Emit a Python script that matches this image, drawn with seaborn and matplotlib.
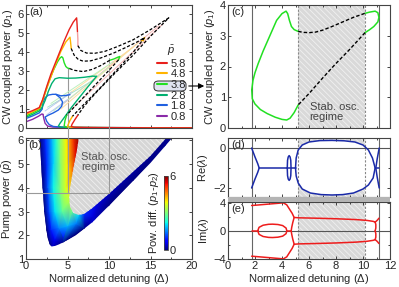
import numpy as np
import matplotlib
matplotlib.use("Agg")
import matplotlib.pyplot as plt
import matplotlib.tri as mtri
import seaborn as sns
from matplotlib.patches import Polygon, FancyBboxPatch, Rectangle

sns.set_style("ticks")
plt.rcParams['font.family'] = ['Liberation Sans', 'DejaVu Sans']
plt.rcParams['mathtext.fontset'] = 'custom'
plt.rcParams['mathtext.rm'] = 'Liberation Sans'
plt.rcParams['mathtext.it'] = 'Liberation Sans:italic'
plt.rcParams['font.size'] = 8
plt.rcParams['hatch.linewidth'] = 0.6
plt.rcParams['axes.edgecolor'] = '#444444'
plt.rcParams['axes.linewidth'] = 0.8

# ---------------- panel (a): CW coupled power vs detuning ----------------
pbar_labels = ['5.8', '4.8', '3.8', '2.8', '1.8', '0.8']
pbar_colors = ['#e8201c', '#ffb400', '#22e022', '#00b070', '#2060e0', '#8a2aa8']

# stable upper branches (solid, coloured)
up_58_x = [0, 0.8, 1.6, 2.0, 2.5, 3.0, 3.5, 4.0, 4.6, 5.2, 5.7, 6.1, 6.15, 6.2]
up_58_y = [0.78, 0.92, 1.08, 1.5, 2.2, 2.85, 3.4, 3.95, 4.6, 5.2, 5.6, 5.82, 5.5, 5.1]
up_48_x = [0, 0.8, 1.6, 2.0, 2.5, 3.0, 3.6, 4.2, 4.8, 5.3, 5.38, 5.45]
up_48_y = [0.71, 0.86, 1.03, 1.45, 2.1, 2.7, 3.4, 4.05, 4.55, 4.8, 4.5, 4.2]
up_38_x = [0, 0.8, 1.6, 1.95, 2.3, 2.8, 3.3, 3.8, 4.1, 4.3, 4.45, 4.6, 4.8, 5.0, 5.25]
up_38_y = [0.64, 0.8, 0.98, 1.35, 1.85, 2.5, 3.05, 3.5, 3.7, 3.77, 3.7, 3.45, 3.25, 3.17, 3.14]
up_28_x = [0, 0.8, 1.6, 1.95, 2.3, 2.7, 3.1, 3.5, 4.0, 5.0, 6.0, 7.0, 8.0, 8.5]
up_28_y = [0.57, 0.72, 0.9, 1.1, 1.45, 1.95, 2.35, 2.6, 2.66, 2.63, 2.64, 2.68, 2.74, 2.73]
up_18_x = [0, 0.8, 1.6, 1.95, 2.05, 2.3, 2.7, 3.2, 3.6, 4.2, 4.8, 5.3]
up_18_y = [0.5, 0.64, 0.8, 1.0, 1.35, 1.6, 1.74, 1.78, 1.78, 1.7, 1.72, 1.76]
up_08_x = [0, 0.8, 1.5, 1.9, 2.05]
up_08_y = [0.33, 0.46, 0.62, 0.74, 0.72]

# unstable branches (black dashed)
un_58_x = [6.25, 6.6, 7.3, 8.3, 9.5, 11, 12.9, 15, 17.2, 15, 12.9, 10.5, 8.5, 7, 6.25]
un_58_y = [4.35, 4.1, 3.96, 3.95, 4.05, 4.3, 4.66, 5.2, 5.82, 4.85, 3.85, 2.8, 1.9, 1.15, 0.68]
un_48_x = [5.45, 5.8, 6.3, 6.9, 7.8, 9, 10.5, 12, 13.4, 14.3, 13, 11, 9, 7.2, 5.6]
un_48_y = [4.2, 3.85, 3.62, 3.53, 3.55, 3.7, 3.95, 4.25, 4.55, 4.78, 4.05, 3.1, 2.15, 1.35, 0.62]
un_38a_x = [5.25, 5.8, 6.9, 8.0, 9.0, 10.1]
un_38a_y = [3.14, 3.05, 2.98, 3.1, 3.3, 3.58]
un_38b_x = [11.15, 10, 8.5, 7, 5.9, 4.9]
un_38b_y = [3.6, 3.05, 2.35, 1.65, 1.15, 0.68]
tip_38_x = [10.1, 10.6, 11.0, 11.3, 11.15]
tip_38_y = [3.58, 3.65, 3.73, 3.78, 3.6]
tip_48_x = [13.9, 14.3, 14.1]
tip_48_y = [4.6, 4.78, 4.6]
fade_58_x = [6.2, 6.25, 6.25]
fade_58_y = [5.1, 4.7, 4.35]

# lower branches (solid, coloured)
lo_58_x = [6.25, 5.9, 5.55, 5.45, 5.8, 7, 10, 15, 20]
lo_58_y = [0.68, 0.45, 0.2, 0.08, 0.04, 0.03, 0.02, 0.01, 0.01]
lo_48_x = [5.6, 5.3, 5.05, 5.0, 5.4, 7, 12, 20]
lo_48_y = [0.62, 0.4, 0.15, 0.06, 0.03, 0.02, 0.015, 0.01]
lo_38_x = [4.9, 4.7, 4.6, 4.8, 6, 10, 20]
lo_38_y = [0.68, 0.4, 0.12, 0.05, 0.03, 0.02, 0.01]
lo_28_x = [8.5, 7.5, 6.5, 5.5, 4.6, 4.1, 3.9, 4.2, 6, 20]
lo_28_y = [2.73, 2.2, 1.65, 1.1, 0.55, 0.25, 0.1, 0.04, 0.02, 0.01]
lo_18_x = [3.6, 4.1, 4.4, 4.3, 3.9, 3.3, 2.7, 2.3, 2.5, 2.8, 3.3, 4.5, 8, 20]
lo_18_y = [1.78, 1.6, 1.38, 1.15, 0.95, 0.8, 0.68, 0.58, 0.35, 0.18, 0.08, 0.04, 0.02, 0.01]
lo_08_x = [2.05, 2.15, 2.3, 2.6, 3.2, 5, 10, 20]
lo_08_y = [0.72, 0.5, 0.25, 0.1, 0.05, 0.03, 0.02, 0.01]

# faint intermediate curves
pale_colors = ['#f6b8b8', '#f6b8b8', '#fde0a0', '#fde0a0', '#bff0bf', '#bff0bf', '#a8e2c8', '#b8c8f2', '#b8c8f2']
pale_x0 = [5.0, 4.3, 4.2, 3.6, 3.0, 3.3, 2.6, 2.3, 2.5]
pale_y0 = [0.8, 1.2, 1.0, 1.3, 1.3, 0.9, 1.1, 0.9, 0.7]
pale_x1 = [16.5, 16.0, 13.5, 13.0, 10.5, 10.0, 8.0, 5.5, 5.0]
pale_y1 = [5.5, 5.4, 4.5, 4.3, 3.5, 3.2, 2.5, 1.9, 1.5]

marker_detuning = [5, 10]
marker_top_a = [3.15, 3.7]
marker_pump = 3.8

# ---------------- panel (b): pump power map ----------------
wedge_x = [1.6, 1.75, 1.9, 2.05, 2.2, 2.4, 2.6, 2.85, 3.1, 3.5, 4.0, 5.0, 6.0, 8.0, 10.0, 12.5, 15.0, 18.1]
wedge_y = [6.3, 5.5, 4.5, 3.8, 3.0, 2.4, 1.9, 1.62, 1.53, 1.55, 1.62, 1.8, 2.0, 2.55, 3.25, 4.15, 5.05, 6.3]
osc_x = [6.45, 6.1, 5.7, 5.35, 5.2, 5.3, 5.7, 6.3, 7.0, 8.0, 10.0, 12.5, 15.0, 17.4]
osc_y = [6.3, 5.5, 4.8, 4.1, 3.6, 3.2, 2.95, 2.86, 2.9, 3.15, 3.75, 4.55, 5.35, 6.3]
# power difference p1-p2 read at scattered points
field_x = [0.5, 1.0, 2.5, 8.0, 14.0, 19.5,
           1.6, 1.8, 2.0, 2.2, 2.5, 2.9,
           4.5, 7.0, 10.0, 13.0, 18.2,
           7.0, 8.5, 10.0, 12.5, 17.3,
           6.45, 6.0, 5.6, 5.3, 5.2, 5.5, 6.3,
           2.3, 3.0, 3.6, 4.2, 4.8, 5.5,
           2.5, 3.3, 4.1, 4.9, 2.6, 3.3, 4.1, 4.8,
           2.7, 3.5, 4.4, 3.0, 4.0, 5.0, 6.0, 3.4, 4.5, 8.0]
field_y = [6.5, 3.0, 1.0, 1.5, 3.0, 6.5,
           6.3, 5.0, 4.0, 3.0, 2.2, 1.55,
           1.7, 2.3, 3.25, 4.3, 6.3,
           2.9, 3.3, 3.75, 4.55, 6.3,
           6.3, 5.4, 4.6, 3.9, 3.4, 3.0, 2.85,
           6.3, 6.3, 6.3, 6.3, 6.3, 6.3,
           5.0, 5.0, 5.0, 5.0, 4.0, 4.0, 4.0, 4.0,
           3.0, 3.0, 3.0, 2.2, 2.3, 2.4, 2.5, 1.8, 1.95, 2.8]
field_v = [0, 0, 0, 0, 0, 0,
           0, 0, 0, 0, 0, 0,
           0, 0, 0, 0, 0,
           1.0, 0.5, 0.3, 0.2, 0.1,
           6.0, 5.5, 4.7, 4.0, 3.4, 2.9, 2.0,
           1.0, 1.7, 2.4, 3.2, 3.9, 4.9,
           1.0, 2.0, 3.0, 3.9, 1.2, 2.2, 3.0, 3.7,
           1.1, 2.1, 2.8, 0.9, 1.5, 1.8, 1.5, 0.6, 0.9, 0.5]

# ---------------- panel (c): oscillating branch at p = 3.8 ----------------
c_left_x = [1.76, 1.85, 2.0, 2.24, 2.6, 3.0, 3.6, 4.0, 4.3, 4.42, 4.55, 4.7, 4.9, 5.2]
c_left_y = [1.24, 1.55, 1.8, 2.1, 2.5, 2.9, 3.5, 3.72, 3.8, 3.72, 3.5, 3.3, 3.2, 3.14]
c_dash_up_x = [5.2, 5.6, 6.0, 6.5, 7.0, 7.7, 8.5, 9.3, 10.15]
c_dash_up_y = [3.14, 3.11, 3.1, 3.12, 3.18, 3.3, 3.45, 3.6, 3.73]
c_right_x = [10.15, 10.5, 10.9, 11.1, 11.18, 11.1, 10.8, 10.5, 10.15]
c_right_y = [3.73, 3.77, 3.8, 3.75, 3.6, 3.45, 3.3, 3.2, 3.1]
c_dash_lo_x = [10.15, 9.0, 8.0, 7.0, 6.0, 5.2]
c_dash_lo_y = [3.1, 2.55, 2.1, 1.62, 1.12, 0.75]
c_low_x = [5.2, 4.9, 4.6, 4.35, 4.0, 3.5, 2.9, 2.4, 2.0, 1.8, 1.76]
c_low_y = [0.75, 0.5, 0.32, 0.26, 0.28, 0.35, 0.47, 0.6, 0.78, 0.95, 1.24]

osc_lo, osc_hi = 5.2, 10.15
edge_lo, edge_hi = 1.75, 11.2

# ---------------- panel (d): Re(lambda) ----------------
d_l_x = [1.75, 2.0, 2.2, 2.31, 2.2, 2.0, 1.75]
d_l_y = [0.0, -0.45, -0.78, -1.0, -1.22, -1.55, -2.0]
d_h_x = [2.31, 5.0]
d_h_y = [-1.0, -1.0]
d_e_x = [4.39, 4.41, 4.46, 4.53, 4.6, 4.65, 4.67, 4.65, 4.6, 4.53, 4.46, 4.41, 4.39]
d_e_y = [-1.0, -0.62, -0.45, -0.38, -0.45, -0.62, -1.0, -1.38, -1.55, -1.62, -1.55, -1.38, -1.0]
d_loop_x = [5.0, 5.05, 5.2, 5.5, 6.0, 6.8, 7.7, 8.6, 9.4, 10.0, 10.4, 10.7, 10.9,
            10.75, 10.4, 10.0, 9.3, 8.5, 7.7, 6.9, 6.1, 5.5, 5.2, 5.05, 5.0]
d_loop_y = [-1.0, -0.5, -0.1, 0.15, 0.3, 0.37, 0.38, 0.36, 0.3, 0.15, -0.1, -0.5, -1.0,
            -1.5, -1.85, -2.05, -2.25, -2.33, -2.35, -2.33, -2.25, -2.05, -1.75, -1.4, -1.0]
d_r_x = [11.2, 11.05, 10.95, 11.05, 11.2]
d_r_y = [0.0, -0.55, -1.0, -1.45, -2.0]
d_rh_x = [10.9, 11.2]
d_rh_y = [-1.0, -1.0]

# ---------------- panel (e): Im(lambda) ----------------
e_top_x = [1.75, 2.5, 3.3, 4.1, 4.35, 4.55, 4.75, 4.9, 5.3, 6.5, 8.0, 9.5, 10.3, 10.75, 10.9]
e_top_y = [3.6, 3.72, 3.85, 3.98, 3.7, 3.1, 2.5, 1.9, 1.85, 1.8, 1.72, 1.6, 1.48, 1.35, 1.25]
e_fork_up_x = [10.9, 11.0, 11.1, 11.18]
e_fork_up_y = [1.25, 1.4, 1.6, 1.8]
e_fork_dn_x = [10.9, 10.95, 10.95, 10.9]
e_fork_dn_y = [1.25, 0.9, 0.4, 0.0]
e_join_x = [4.9, 4.8, 4.72, 4.68]
e_join_y = [1.9, 1.2, 0.5, 0.0]
e_ell_x = [2.2, 2.3, 2.6, 3.0, 3.3, 3.7, 4.05, 4.3, 4.36, 4.3, 4.05, 3.7, 3.3, 3.0, 2.6, 2.3, 2.2]
e_ell_y = [0.0, 0.5, 0.8, 0.93, 0.95, 0.9, 0.75, 0.4, 0.0, -0.4, -0.75, -0.9, -0.95, -0.93, -0.8, -0.5, 0.0]
e_zero_x = [[1.75, 2.2], [4.36, 4.68]]


def line(ax, xs, ys, color, lw=1.0, **kw):
    sns.lineplot(x=xs, y=ys, sort=False, estimator=None, color=color, lw=lw, ax=ax, **kw)


def neg(v):
    return [-a for a in v]


fig = plt.figure(figsize=(3.99, 2.87), dpi=100)
W, H = 399.0, 287.0


def box(l, t, r, b):
    return [l / W, 1 - b / H, (r - l) / W, (b - t) / H]


ax_a = fig.add_axes(box(26, 5, 192, 128))
ax_b = fig.add_axes(box(26, 138, 192, 259))
ax_c = fig.add_axes(box(228, 5, 390, 128))
ax_d = fig.add_axes(box(228, 138, 390, 197))
ax_e = fig.add_axes(box(228, 202, 390, 259))

for ax in [ax_a, ax_b, ax_c, ax_d, ax_e]:
    ax.tick_params(direction='in', top=True, right=True, length=2.5, width=0.6,
                   labelsize=8, pad=1.5, which='both')
    ax.tick_params(which='minor', length=1.5)

# ----- (a)
for c, x0, y0, x1, y1 in zip(pale_colors, pale_x0, pale_y0, pale_x1, pale_y1):
    line(ax_a, [x0, x1], [y0, y1], c, lw=0.7)
line(ax_a, fade_58_x, fade_58_y, '#f4a0a0', lw=1.0)

ups = [(up_58_x, up_58_y), (up_48_x, up_48_y), (up_38_x, up_38_y),
       (up_28_x, up_28_y), (up_18_x, up_18_y), (up_08_x, up_08_y)]
lows = [(lo_58_x, lo_58_y), (lo_48_x, lo_48_y), (lo_38_x, lo_38_y),
        (lo_28_x, lo_28_y), (lo_18_x, lo_18_y), (lo_08_x, lo_08_y)]
for (ux, uy), (lx, ly), c in zip(ups[::-1], lows[::-1], pbar_colors[::-1]):
    line(ax_a, lx, ly, c)
    line(ax_a, ux, uy, c)
line(ax_a, tip_38_x, tip_38_y, pbar_colors[2])
line(ax_a, tip_48_x, tip_48_y, pbar_colors[1])
for ux, uy in [(un_58_x, un_58_y), (un_48_x, un_48_y), (un_38a_x, un_38a_y), (un_38b_x, un_38b_y)]:
    line(ax_a, ux, uy, 'black', lw=0.9, dashes=(2.5, 1.5))

for xv, yt in zip(marker_detuning, marker_top_a):
    ax_a.plot([xv, xv], [0, yt], color='#999999', lw=0.8, zorder=1)

ax_a.set_xlim(0, 20)
ax_a.set_ylim(0, 6.5)
ax_a.set_yticks([0, 1, 2, 3, 4, 5, 6])
ax_a.set_xticks([0, 5, 10, 15, 20])
ax_a.set_xticks([2.5, 7.5, 12.5, 17.5], minor=True)
ax_a.set_xticklabels([])
ax_a.set_ylabel('CW coupled power ($p_1$)', labelpad=2)
ax_a.text(0.02, 0.985, '(a)', transform=ax_a.transAxes, ha='left', va='top', fontsize=8)

handles = [plt.Line2D([], [], color=c, lw=1.5) for c in pbar_colors]
leg = ax_a.legend(handles, pbar_labels, title=r'$\bar{p}$', frameon=False, fontsize=8,
                  title_fontsize=8, handlelength=0.9, handletextpad=0.3, labelspacing=0.06,
                  borderpad=0, borderaxespad=0, loc='upper left', bbox_to_anchor=(0.789, 0.685))
leg.set_zorder(6)

hl = FancyBboxPatch((154 / W, 1 - 91 / H), 32 / W, 10 / H, boxstyle='round,pad=0,rounding_size=0.012',
                    transform=fig.transFigure, facecolor='#dfe3f0', edgecolor='#333333', lw=0.7,
                    clip_on=False, zorder=5)
ax_a.add_patch(hl)
ax_a.annotate('', xy=(207 / W, 1 - 86 / H), xytext=(186 / W, 1 - 86 / H),
              xycoords='figure fraction', textcoords='figure fraction',
              arrowprops=dict(arrowstyle='-|>', color='black', lw=0.8, mutation_scale=8))

# ----- (b)
tri = mtri.Triangulation(field_x, field_y)
tpc = ax_b.tripcolor(tri, field_v, shading='gouraud', cmap='jet', vmin=0, vmax=6, zorder=1)
wedge = Polygon(np.column_stack([wedge_x, wedge_y]), closed=True, facecolor='none',
                edgecolor='none', transform=ax_b.transData)
ax_b.add_patch(wedge)
tpc.set_clip_path(wedge)
ax_b.fill(osc_x, osc_y, facecolor='#d6d6d6', edgecolor='#efefef', hatch='\\\\\\\\\\\\', lw=0, zorder=2)
ax_b.text(6.6, 5.1, 'Stab. osc.\nregime', color='#555555', fontsize=8, ha='left', va='center',
          linespacing=1.0, zorder=3)
for xv in marker_detuning:
    ax_b.plot([xv, xv], [marker_pump, 6.55], color='#999999', lw=0.8, zorder=3, clip_on=False)
ax_b.plot([0, 10], [marker_pump, marker_pump], color='#999999', lw=0.8, zorder=3)
ax_b.set_xlim(0, 20)
ax_b.set_ylim(1, 6.1)
ax_b.set_xticks([0, 5, 10, 15, 20])
ax_b.set_xticks([2.5, 7.5, 12.5, 17.5], minor=True)
ax_b.set_yticks([1, 2, 3, 4, 5, 6])
ax_b.set_xlabel('Normalized detuning ($\\Delta$)', labelpad=1)
ax_b.set_ylabel('Pump power ($\\bar{p}$)', labelpad=2)
ax_b.text(0.015, 0.985, '(b)', transform=ax_b.transAxes, ha='left', va='top', fontsize=8, zorder=4)

cax = fig.add_axes(box(164, 176, 168, 250))
sm = plt.cm.ScalarMappable(cmap='jet', norm=plt.Normalize(0, 6))
cb = fig.colorbar(sm, cax=cax, ticks=[0, 6])
cb.outline.set_linewidth(0.6)
cb.ax.tick_params(length=0, labelsize=8, pad=1)
cb.ax.yaxis.set_label_position('left')
cb.set_label('Pow. diff. ($p_1$-$p_2$)', fontsize=8, labelpad=2)

# ----- (c), (d), (e) common decorations
for ax in [ax_c, ax_d, ax_e]:
    ax.axvspan(osc_lo, osc_hi, facecolor='#d9d9d9', edgecolor='#f0f0f0', hatch='\\\\\\\\\\\\', lw=0, zorder=0)
    ax.axvline(edge_lo, color='#666666', lw=0.8, zorder=1)
    ax.axvline(edge_hi, color='#666666', lw=0.8, zorder=1)
    ax.axvline(osc_lo, color='#888888', lw=0.8, ls=(0, (2, 1.5)), zorder=1)
    ax.axvline(osc_hi, color='#888888', lw=0.8, ls=(0, (2, 1.5)), zorder=1)
    ax.set_xlim(0, 12)
    ax.set_xticks([0, 2, 4, 6, 8, 10, 12])
    ax.set_xticks([1, 3, 5, 7, 9, 11], minor=True)

green = pbar_colors[2]
line(ax_c, c_left_x, c_left_y, green, lw=1.1)
line(ax_c, c_right_x, c_right_y, green, lw=1.1)
line(ax_c, c_low_x, c_low_y, green, lw=1.1)
line(ax_c, c_dash_up_x, c_dash_up_y, 'black', lw=1.0, dashes=(2.5, 1.5))
line(ax_c, c_dash_lo_x, c_dash_lo_y, 'black', lw=1.0, dashes=(2.5, 1.5))
ax_c.text(6.05, 0.52, 'Stab. osc.\nregime', color='#444444', fontsize=8, ha='left', va='center', linespacing=1.0)
ax_c.set_ylim(0, 4)
ax_c.set_yticks([0, 1, 2, 3, 4])
ax_c.set_xticklabels([])
ax_c.set_ylabel('CW coupled power ($p_1$)', labelpad=2)
ax_c.text(0.02, 0.985, '(c)', transform=ax_c.transAxes, ha='left', va='top', fontsize=8)

blue = '#1a2aa8'
ax_d.fill(d_loop_x, d_loop_y, color='white', lw=0, zorder=0.5)
ax_d.axhline(0, color='#555555', lw=0.8, zorder=1)
for xs, ys in [(d_l_x, d_l_y), (d_h_x, d_h_y), (d_e_x, d_e_y), (d_loop_x, d_loop_y),
               (d_r_x, d_r_y), (d_rh_x, d_rh_y)]:
    line(ax_d, xs, ys, blue, lw=1.1)
ax_d.set_ylim(-2.45, 0.5)
ax_d.set_yticks([0, -2])
ax_d.set_yticks([-1], minor=True)
ax_d.set_xticklabels([])
ax_d.set_ylabel('Re($\\lambda$)', labelpad=2)
ax_d.text(0.02, 0.97, '(d)', transform=ax_d.transAxes, ha='left', va='top', fontsize=8)

red = '#ee1c1c'
ax_e.axhline(0, color='#555555', lw=0.8, zorder=1)
for xs, ys in [(e_top_x, e_top_y), (e_fork_up_x, e_fork_up_y), (e_fork_dn_x, e_fork_dn_y),
               (e_join_x, e_join_y)]:
    line(ax_e, xs, ys, red, lw=1.1)
    line(ax_e, xs, neg(ys), red, lw=1.1)
line(ax_e, e_ell_x, e_ell_y, red, lw=1.1)
for zx in e_zero_x:
    line(ax_e, zx, [0, 0], red, lw=1.1)
ax_e.set_ylim(-4, 4.1)
ax_e.set_yticks([-4, 0, 4])
ax_e.set_yticks([-2, 2], minor=True)
ax_e.set_xlabel('Normalized detuning ($\\Delta$)', labelpad=1)
ax_e.set_ylabel('Im($\\lambda$)', labelpad=2)
ax_e.text(0.02, 0.97, '(e)', transform=ax_e.transAxes, ha='left', va='top', fontsize=8)

fig.add_artist(Rectangle((228 / W, 1 - 202 / H), 162 / W, 5 / H, transform=fig.transFigure,
                         facecolor='#b4b4b4', edgecolor='none'))

fig.savefig('out.png', dpi=100)
